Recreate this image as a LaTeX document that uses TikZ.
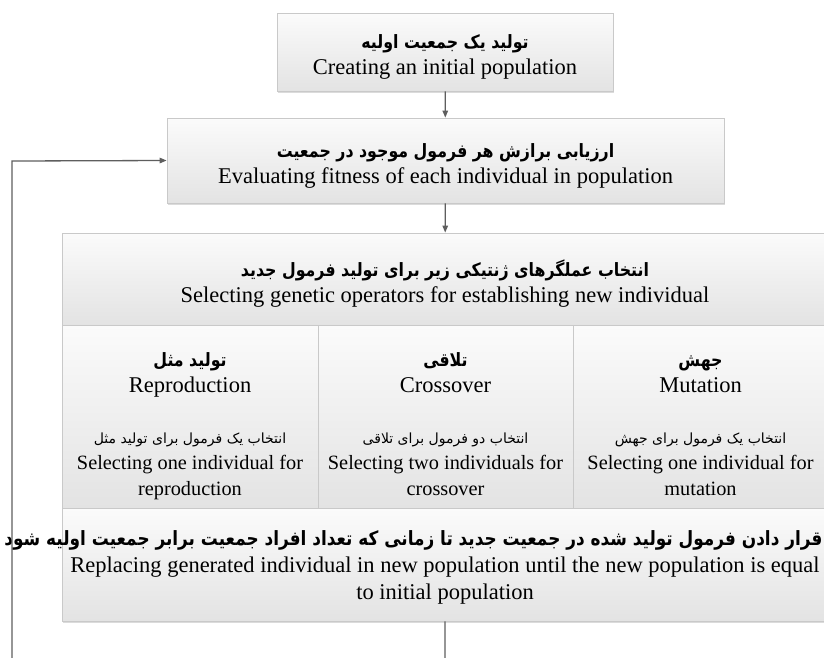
\documentclass[tikz,border=0pt]{standalone}
\usepackage{fontspec}
\setmainfont{Liberation Serif}
\newfontfamily\fafont[Script=Arabic]{DejaVu Sans}
\TeXXeTstate=1
\usetikzlibrary{arrows.meta,shadows}
\definecolor{boxline}{HTML}{C9C9C9}
\definecolor{boxtop}{HTML}{FBFBFB}
\definecolor{boxbot}{HTML}{E3E3E3}
\definecolor{connc}{HTML}{5E5E5E}
\newcommand{\pbold}[1]{\scalebox{0.93}[1.08]{\fafont\bfseries\fontsize{17}{20}\selectfont\beginR #1\endR}}
\newcommand{\psmall}[1]{{\fafont\fontsize{14}{17}\selectfont\beginR #1\endR}}
\newcommand{\esmall}[1]{{\fontsize{20.3}{24}\selectfont #1}}
\newcommand{\tstrut}{\rule{0pt}{20pt}}
\newcommand{\bstrut}{\rule[-6pt]{0pt}{6pt}}
\tikzset{
  box/.style={draw=boxline, line width=0.8pt, top color=boxtop, bottom color=boxbot,
    inner sep=0pt,
    drop shadow={shadow xshift=1.2pt, shadow yshift=-1.5pt, fill=black!40, opacity=0.35}},
  txt/.style={align=center, inner sep=0pt, font=\fontsize{22.5}{26}\selectfont},
  conn/.style={draw=connc, line width=1.3pt},
  tip/.style={-{Triangle[length=7pt,width=5.5pt]}},
}
\begin{document}
\begin{tikzpicture}[x=1pt,y=-1pt]
\useasboundingbox (0,0) rectangle (824,657);
\clip (0,0) rectangle (824,657);
\fill[white] (0,0) rectangle (824,657);

% boxes
\node[box, minimum width=336pt, minimum height=78pt] (create) at (445,52) {};
\node[box, minimum width=557pt, minimum height=85pt] (eval) at (445.5,160.5) {};
\node[box, minimum width=766pt, minimum height=92pt] (header) at (445,279) {};
\node[box, minimum width=256pt, minimum height=183pt] (reprod) at (190,416.5) {};
\node[box, minimum width=255pt, minimum height=183pt] (cross) at (445.5,416.5) {};
\node[box, minimum width=255pt, minimum height=183pt] (mut) at (700.5,416.5) {};
\node[box, minimum width=766pt, minimum height=113pt] (replace) at (445,564.5) {};

% texts
\node[txt, yshift=-5pt] (createT) at (create)
  {\pbold{تولید یک جمعیت اولیه}\\ Creating an initial population};
\node[txt, yshift=-5pt] (evalT) at (eval)
  {\pbold{ارزیابی برازش هر فرمول موجود در جمعیت}\\ Evaluating fitness of each individual in population};
\node[txt, yshift=-5pt] (headerT) at (header)
  {\pbold{انتخاب عملگرهای ژنتیکی زیر برای تولید فرمول جدید}\\ Selecting genetic operators for establishing new individual};
\node[txt, yshift=-7pt] (reprodT) at (reprod)
  {\tstrut\pbold{تولید مثل}\\ Reproduction\\[25pt]
   \psmall{انتخاب یک فرمول برای تولید مثل}\\ \esmall{Selecting one individual for}\\ \esmall{reproduction}\bstrut};
\node[txt, yshift=-7pt] (crossT) at (cross)
  {\tstrut\pbold{تلاقی}\\ Crossover\\[25pt]
   \psmall{انتخاب دو فرمول برای تلاقی}\\ \esmall{Selecting two individuals for}\\ \esmall{crossover}\bstrut};
\node[txt, yshift=-7pt] (mutT) at (mut)
  {\tstrut\pbold{جهش}\\ Mutation\\[25pt]
   \psmall{انتخاب یک فرمول برای جهش}\\ \esmall{Selecting one individual for}\\ \esmall{mutation}\bstrut};
\node[txt, yshift=-3pt] (replaceT) at (replace)
  {\makebox[755pt][r]{\resizebox{818pt}{!}{\pbold{قرار دادن فرمول تولید شده در جمعیت جدید تا زمانی که تعداد افراد جمعیت برابر جمعیت اولیه شود}}}\\[1pt]
   Replacing generated individual in new population until the new population is equal\\[1pt] to initial population};

% connectors
\coordinate (loopB) at (445,720);
\coordinate (loopL) at (12,161);
\draw[conn,tip] (create) -- (eval);
\draw[conn,tip] (eval) -- (header);
\draw[conn,tip] (replace.south) -- (loopB) -| (loopL) -- (eval.west);
\end{tikzpicture}
\end{document}
